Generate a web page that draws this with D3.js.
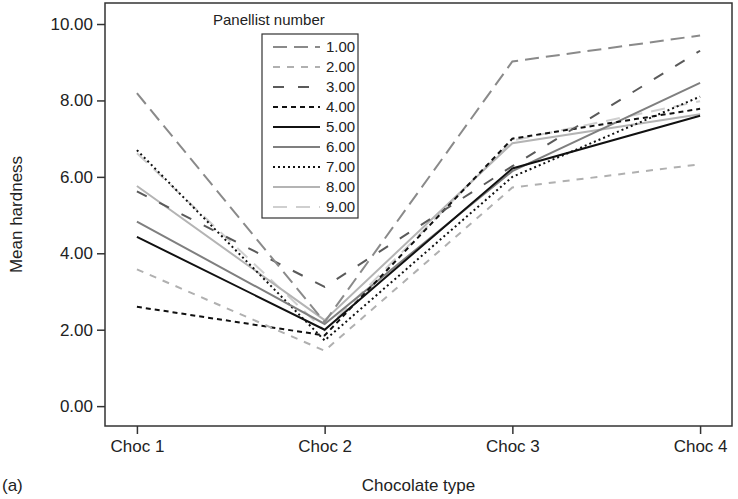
<!DOCTYPE html>
<html>
<head>
<meta charset="utf-8">
<script src="https://cdn.jsdelivr.net/npm/d3@7"></script>
<style>
  body { margin: 0; background: #fff; }
  text { font-family: "Liberation Sans", Arial, sans-serif; fill: #222; }
</style>
</head>
<body>
<svg id="chart" width="738" height="499"></svg>
<script>
var chocs = ["Choc 1", "Choc 2", "Choc 3", "Choc 4"]
var panellists = ["1.00", "2.00", "3.00", "4.00", "5.00", "6.00", "7.00", "8.00", "9.00"]
var yTicks = [0, 2, 4, 6, 8, 10]

// mean hardness per panellist, one value per chocolate
var p1 = [8.19, 2.20, 9.02, 9.70]
var p2 = [3.58, 1.45, 5.72, 6.33]
var p3 = [5.62, 3.12, 6.28, 9.30]
var p4 = [2.60, 1.85, 7.00, 7.78]
var p5 = [4.43, 2.00, 6.22, 7.60]
var p6 = [4.83, 2.15, 6.15, 8.46]
var p7 = [6.70, 1.72, 6.00, 8.10]
var p8 = [5.76, 2.25, 6.88, 7.64]
var p9 = [6.62, 1.98, 6.95, 7.98]
var series = [p1, p2, p3, p4, p5, p6, p7, p8, p9]

var styles = [
    {color: "#8a8a8a", dash: "14,7", width: 2},
    {color: "#b0b0b0", dash: "7,7", width: 2},
    {color: "#5a5a5a", dash: "11,14", width: 2},
    {color: "#111111", dash: "5,4", width: 2},
    {color: "#111111", dash: null, width: 2},
    {color: "#7f7f7f", dash: null, width: 2},
    {color: "#111111", dash: "2,3", width: 2},
    {color: "#b4b4b4", dash: null, width: 2},
    {color: "#cfcfcf", dash: "14,9", width: 2}
]

var svg = d3.select("svg#chart")
var plotL = 105, plotR = 732, plotT = 3, plotB = 426

var x = d3.scalePoint().domain(chocs).range([plotL, plotR]).padding(0.17)
var y = d3.scaleLinear().domain([-0.52, 10.55]).range([plotB, plotT])

var line = d3.line()
    .x(function (d, i) { return x(chocs[i]) })
    .y(function (d) { return y(d) })

// lines, drawn in reverse so the darker early ones sit on top
var g = svg.append("g")
for (let i = series.length - 1; i >= 0; i--) {
    g.append("path")
        .datum(series[i])
        .attr("d", line)
        .attr("fill", "none")
        .attr("stroke", styles[i].color)
        .attr("stroke-width", styles[i].width)
        .attr("stroke-dasharray", styles[i].dash)
}

// frame
svg.append("rect")
    .attr("x", plotL).attr("y", plotT)
    .attr("width", plotR - plotL).attr("height", plotB - plotT)
    .attr("fill", "none").attr("stroke", "#333").attr("stroke-width", 1.5)

svg.append("g")
    .attr("transform", "translate(" + plotL + ",0)")
    .call(d3.axisLeft(y).tickValues(yTicks).tickSize(8).tickPadding(4)
        .tickFormat(d3.format(".2f")))
svg.append("g")
    .attr("transform", "translate(0," + plotB + ")")
    .call(d3.axisBottom(x).tickSize(8).tickPadding(6))

svg.selectAll(".domain").remove()
svg.selectAll(".tick line").attr("stroke", "#333").attr("stroke-width", 1.5)
svg.selectAll(".tick text").style("font-size", "17px")
    .style("font-family", "Liberation Sans, Arial, sans-serif").attr("fill", "#222")

svg.append("text")
    .attr("transform", "translate(22," + ((plotT + plotB) / 2) + ") rotate(-90)")
    .attr("text-anchor", "middle")
    .style("font-size", "17px")
    .text("Mean hardness")

svg.append("text")
    .attr("x", (plotL + plotR) / 2).attr("y", 491)
    .attr("text-anchor", "middle")
    .style("font-size", "17px")
    .text("Chocolate type")

svg.append("text")
    .attr("x", 2).attr("y", 491)
    .style("font-size", "17px")
    .text("(a)")

// legend
var lg = svg.append("g")
lg.append("text").attr("x", 213).attr("y", 25).style("font-size", "15px").text("Panellist number")
lg.append("rect")
    .attr("x", 262).attr("y", 34).attr("width", 96).attr("height", 184)
    .attr("fill", "#fff").attr("stroke", "#333").attr("stroke-width", 1.2)

panellists.forEach(function (name, i) {
    let ly = 47 + i * 20
    lg.append("line")
        .attr("x1", 273).attr("x2", 320).attr("y1", ly).attr("y2", ly)
        .attr("stroke", styles[i].color)
        .attr("stroke-width", styles[i].width)
        .attr("stroke-dasharray", styles[i].dash)
    lg.append("text").attr("x", 326).attr("y", ly + 5)
        .style("font-size", "15px").text(name)
})
</script>
</body>
</html>
